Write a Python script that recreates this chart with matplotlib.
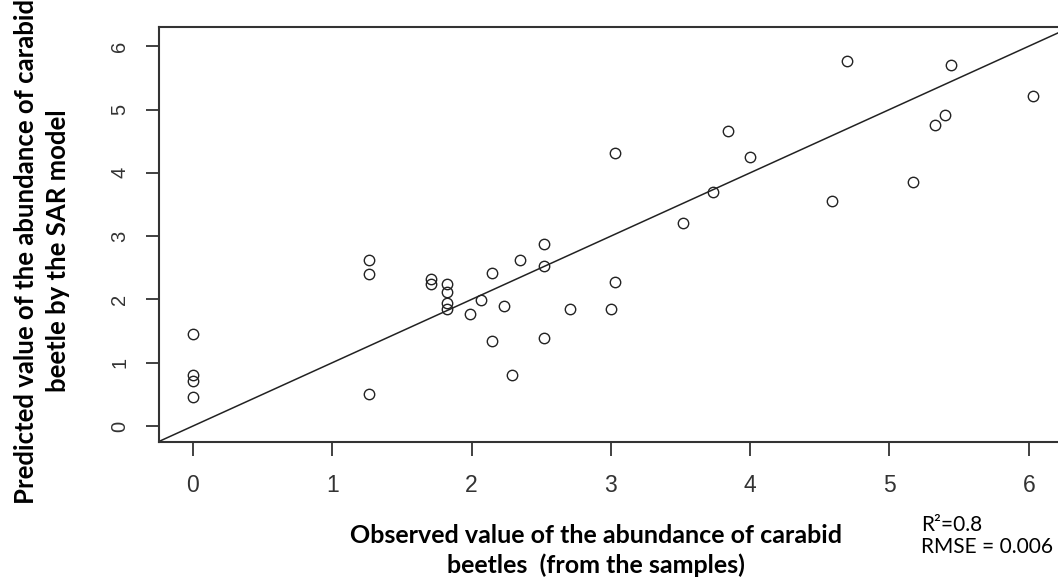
import numpy as np
import matplotlib
matplotlib.use("Agg")
import matplotlib.pyplot as plt

# observed vs predicted abundance
observed = [0, 0, 0, 0, 1.26, 1.26, 1.26, 1.71, 1.71, 1.82, 1.82, 1.82, 1.82,
            1.99, 2.07, 2.15, 2.15, 2.23, 2.29, 2.35, 2.52, 2.52, 2.52, 2.71,
            3.0, 3.03, 3.03, 3.52, 3.73, 3.84, 4.0, 4.585, 4.695, 5.17, 5.33,
            5.40, 5.44, 6.03]
predicted = [1.46, 0.81, 0.71, 0.46, 2.63, 2.40, 0.50, 2.33, 2.24, 2.24, 2.12,
             1.95, 1.85, 1.77, 1.99, 2.42, 1.34, 1.90, 0.81, 2.63, 2.88, 2.52,
             1.39, 1.85, 1.85, 2.28, 4.31, 3.20, 3.70, 4.66, 4.25, 3.55, 5.77,
             3.85, 4.75, 4.91, 5.70, 5.21]
ticks = [0, 1, 2, 3, 4, 5, 6]

xlabel = "Observed value of the abundance of carabid\nbeetles  (from the samples)"
ylabel = "Predicted value of the abundance of carabid\nbeetle by the SAR model"
stats = "R\u00b2=0.8\nRMSE = 0.006"

W, H = 1058, 581
fig = plt.figure(figsize=(W / 100, H / 100), dpi=100)

# axes box in pixels: left 159, top 27.3, bottom 441.7, right runs past the edge
px_x, px_y = 139.3, 63.3
x0, y0 = -0.244, -0.248
left, top, bottom = 159, 27.3, 441.7
ax_w = 908.0
ax = fig.add_axes([left / W, (H - bottom) / H, ax_w / W, (bottom - top) / H])
ax.set_xlim(x0, x0 + ax_w / px_x)
ax.set_ylim(y0, y0 + (bottom - top) / px_y)

ax.plot(observed, predicted, "o", ms=7.5, mfc="none", mec="#222222", mew=1.0)
ax.axline((0, 0), slope=1, color="#222222", lw=1.1)

for s in ax.spines.values():
    s.set_linewidth(1.5)
    s.set_color("#333333")
ax.spines["right"].set_visible(False)

ax.set_xticks(ticks)
ax.set_yticks(ticks)
ax.set_xticklabels([str(t) for t in ticks], family="Liberation Sans",
                   fontsize=16.5, color="#333333")
ax.set_yticklabels([str(t) for t in ticks], family="Liberation Sans",
                   fontsize=14.5, color="#333333", rotation=90, va="center")
ax.tick_params(axis="x", length=10, width=1.3, color="#333333", pad=13)
ax.tick_params(axis="y", length=9.5, width=1.3, color="#333333", pad=12)

# multi-line text: 'baseline' sits on the last line
fig.text(596 / W, (H - 572.7) / H, xlabel, family="Lato", weight="bold",
         fontsize=18, ha="center", va="baseline", linespacing=1.3)
fig.text(42 / W, (H - 251) / H, ylabel, family="Lato", weight="bold",
         fontsize=18.5, ha="center", va="center", rotation=90,
         linespacing=1.35)
fig.text(920.7 / W, (H - 552.7) / H, stats, family="Lato", fontsize=15,
         ha="left", va="baseline", linespacing=1.1)

fig.savefig("out.png", dpi=100)
